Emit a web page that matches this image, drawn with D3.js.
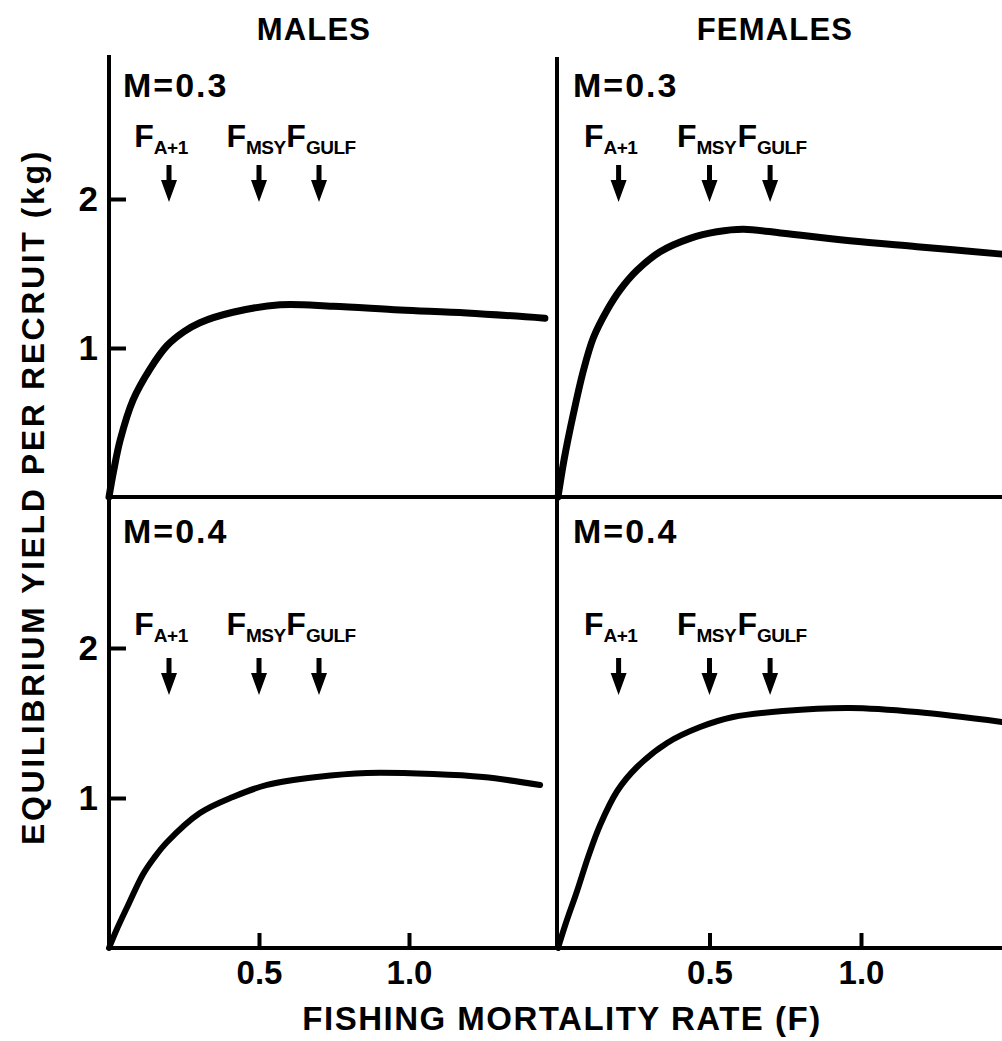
<!DOCTYPE html>
<html>
<head>
<meta charset="utf-8">
<script src="https://cdn.jsdelivr.net/npm/d3@7"></script>
<style>
  html, body { margin: 0; padding: 0; background: #fff; }
  svg { display: block; font-family: "Liberation Sans", Arial, sans-serif; font-weight: bold; }
</style>
</head>
<body>
<svg id="chart" width="1002" height="1041"></svg>
<script>
// ---------------- data ----------------
const sexLabels = ["MALES", "FEMALES"];
const mortalityLabels = ["M=0.3", "M=0.4"];
const refPointSubs = ["A+1", "MSY", "GULF"];
const refPointF = [0.2, 0.5, 0.7];
const xTickValues = [0.5, 1.0];
const xTickLabels = ["0.5", "1.0"];
const yTickValues = [1, 2];
const yTickLabels = ["1", "2"];
const xTitle = "FISHING MORTALITY RATE (F)";
const yTitle = "EQUILIBRIUM YIELD PER RECRUIT (kg)";

// yield-per-recruit curves (F, kg)
const malesM03F = [0, 0.015, 0.037, 0.08, 0.137, 0.193, 0.25, 0.303, 0.413, 0.57, 0.747, 0.97, 1.193, 1.453];
const malesM03Y = [0, 0.17, 0.38, 0.65, 0.86, 1.015, 1.11, 1.17, 1.24, 1.29, 1.28, 1.255, 1.235, 1.20];
const femalesM03F = [0, 0.02, 0.051, 0.084, 0.117, 0.161, 0.205, 0.26, 0.337, 0.436, 0.524, 0.612, 0.743, 0.964, 1.185, 1.465];
const femalesM03Y = [0, 0.25, 0.56, 0.85, 1.07, 1.25, 1.39, 1.52, 1.646, 1.736, 1.78, 1.797, 1.77, 1.72, 1.68, 1.63];
const malesM04F = [0, 0.025, 0.06, 0.113, 0.15, 0.193, 0.303, 0.413, 0.527, 0.693, 0.86, 1.08, 1.247, 1.437];
const malesM04Y = [0, 0.12, 0.27, 0.49, 0.6, 0.705, 0.9, 1.007, 1.087, 1.14, 1.167, 1.16, 1.14, 1.087];
const femalesM04F = [0, 0.025, 0.063, 0.1, 0.139, 0.195, 0.26, 0.36, 0.469, 0.578, 0.743, 0.964, 1.185, 1.465];
const femalesM04Y = [0, 0.16, 0.38, 0.61, 0.82, 1.045, 1.205, 1.367, 1.473, 1.54, 1.58, 1.6, 1.573, 1.507];

const curves = [
  [d3.zip(malesM03F, malesM03Y), d3.zip(femalesM03F, femalesM03Y)],
  [d3.zip(malesM04F, malesM04Y), d3.zip(femalesM04F, femalesM04Y)]
];

// ---------------- layout ----------------
const svg = d3.select("#chart");
const colX = [{x0: 109, perUnit: 300}, {x0: 558, perUnit: 303}];
const rowY = [{bottom: 497, top: 50}, {bottom: 948, top: 498}];
const axisTop = 55;
const arrowTip = [202, 695];
const labelBase = [147, 635];
const mLabelBase = [97, 543];
const mLabelX = [123, 573];
const ink = "#000";

function xScale(c) {
  return d3.scaleLinear().domain([0, 1.5]).range([colX[c].x0, colX[c].x0 + 1.5 * colX[c].perUnit]);
}
function yScale(r) {
  return d3.scaleLinear().domain([0, 3]).range([rowY[r].bottom, rowY[r].top]);
}

// frame lines
svg.append("line").attr("x1", 109).attr("x2", 109).attr("y1", axisTop).attr("y2", 950)
  .attr("stroke", ink).attr("stroke-width", 4);
svg.append("line").attr("x1", 557).attr("x2", 557).attr("y1", axisTop + 2).attr("y2", 950)
  .attr("stroke", ink).attr("stroke-width", 4);
svg.append("line").attr("x1", 107).attr("x2", 1002).attr("y1", 497).attr("y2", 497)
  .attr("stroke", ink).attr("stroke-width", 4);
svg.append("line").attr("x1", 107).attr("x2", 1002).attr("y1", 948).attr("y2", 948)
  .attr("stroke", ink).attr("stroke-width", 4);

const line = d3.line().curve(d3.curveCatmullRom.alpha(0.5));

for (let r = 0; r < 2; r++) {
  for (let c = 0; c < 2; c++) {
    const x = xScale(c), y = yScale(r);
    const g = svg.append("g");

    // curve
    g.append("path")
      .datum(curves[r][c])
      .attr("fill", "none")
      .attr("stroke", ink)
      .attr("stroke-width", r === 0 ? 7 : 6)
      .attr("stroke-linecap", "round")
      .attr("stroke-linejoin", "round")
      .attr("d", line.x(d => x(d[0])).y(d => y(d[1])));

    // y axis ticks (left column only)
    if (c === 0) {
      const ya = d3.axisLeft(y).tickValues(yTickValues)
        .tickFormat((d, i) => yTickLabels[i]).tickSize(-17).tickPadding(11);
      const yg = g.append("g").attr("transform", `translate(${x(0)},0)`).call(ya);
      yg.select(".domain").remove();
      yg.selectAll(".tick line").attr("stroke", ink).attr("stroke-width", 4);
      yg.selectAll(".tick text").attr("fill", ink).attr("font-size", 35)
        .attr("font-family", "Liberation Sans, Arial, sans-serif").attr("font-weight", "bold");
    }

    // x axis ticks (bottom row only)
    if (r === 1) {
      const xa = d3.axisBottom(x).tickValues(xTickValues)
        .tickFormat((d, i) => xTickLabels[i]).tickSize(-15).tickPadding(13);
      const xg = g.append("g").attr("transform", `translate(0,${y(0)})`).call(xa);
      xg.select(".domain").remove();
      xg.selectAll(".tick line").attr("stroke", ink).attr("stroke-width", 4);
      xg.selectAll(".tick text").attr("fill", ink).attr("font-size", 33)
        .attr("font-family", "Liberation Sans, Arial, sans-serif").attr("font-weight", "bold");
    }

    // M label
    g.append("text").attr("x", mLabelX[c]).attr("y", mLabelBase[r])
      .attr("font-size", 34).attr("fill", ink).attr("letter-spacing", 2)
      .text(mortalityLabels[r]);

    // reference point arrows and labels
    refPointF.forEach((f, i) => {
      const ax = x(f), tip = arrowTip[r];
      g.append("path")
        .attr("d", `M${ax - 2.5},${tip - 37} L${ax + 2.5},${tip - 37} L${ax + 2.5},${tip - 22} L${ax + 8},${tip - 22} L${ax},${tip} L${ax - 8},${tip - 22} L${ax - 2.5},${tip - 22} Z`)
        .attr("fill", ink);
      const t = g.append("text").attr("x", ax + (i === 0 ? -8 : (i === 1 ? -3 : 2))).attr("y", labelBase[r])
        .attr("text-anchor", "middle").attr("fill", ink);
      t.append("tspan").attr("font-size", 32).text("F");
      t.append("tspan").attr("font-size", 19).attr("dy", 7).attr("letter-spacing", -0.5)
        .text(refPointSubs[i]);
    });
  }
}

// column titles
sexLabels.forEach((s, c) => {
  svg.append("text").attr("x", c === 0 ? 314 : 775).attr("y", 40)
    .attr("text-anchor", "middle").attr("font-size", 31).attr("fill", ink).attr("letter-spacing", 1.2)
    .text(s);
});

// axis titles
svg.append("text").attr("x", 562).attr("y", 1030).attr("text-anchor", "middle")
  .attr("font-size", 33).attr("letter-spacing", 1.5).attr("fill", ink).text(xTitle);
svg.append("text").attr("transform", "translate(44,497) rotate(-90)").attr("text-anchor", "middle")
  .attr("font-size", 32).attr("letter-spacing", 2.6).attr("fill", ink).text(yTitle);
</script>
</body>
</html>
